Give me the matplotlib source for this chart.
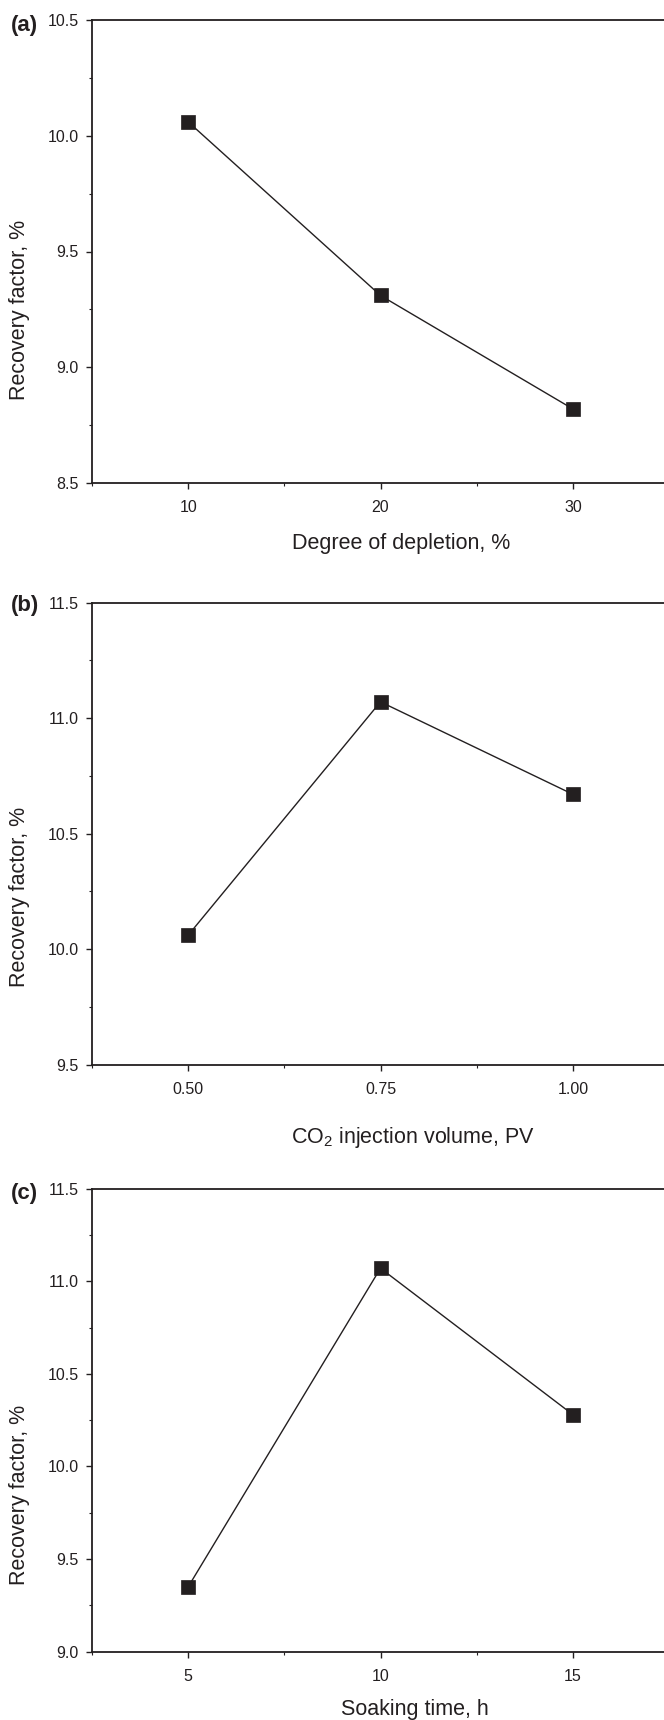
import matplotlib
matplotlib.use("Agg")
import matplotlib.pyplot as plt
from matplotlib.ticker import MultipleLocator, FormatStrFormatter

plt.rcParams['font.family'] = ['Liberation Sans', 'DejaVu Sans']
plt.rcParams['mathtext.fontset'] = 'custom'
plt.rcParams['mathtext.rm'] = 'Liberation Sans'
plt.rcParams['mathtext.it'] = 'Liberation Sans:italic'
plt.rcParams['mathtext.bf'] = 'Liberation Sans:bold'

# ---- data ----
depletion = [10, 20, 30]
rf_depletion = [10.06, 9.31, 8.82]

co2_volume = [0.50, 0.75, 1.00]
rf_co2 = [10.06, 11.07, 10.67]

soak_time = [5, 10, 15]
rf_soak = [9.35, 11.07, 10.28]

panel_labels = ["(a)", "(b)", "(c)"]
x_labels = ["Degree of depletion, %", "CO$_\\mathrm{2}$ injection volume, PV", "Soaking time, h"]
y_label = "Recovery factor, %"

W, H = 664, 1720
fig = plt.figure(figsize=(W / 100, H / 100), dpi=100)
C = '#231f20'

# axes geometry in pixels: (top, bottom)
left_px, right_px = 92, 669
panels = [
    dict(x=depletion, y=rf_depletion, top=20, bot=483, xlim=(5, 35), ylim=(8.5, 10.5),
         xmaj=10, xmin=5, xfmt='%d', lab_x=401, lab_y=543, ylab_y=310, pl_y=26),
    dict(x=co2_volume, y=rf_co2, top=602.5, bot=1064.6, xlim=(0.375, 1.125), ylim=(9.5, 11.5),
         xmaj=0.25, xmin=0.125, xfmt='%.2f', lab_x=413, lab_y=1138, ylab_y=897, pl_y=606),
    dict(x=soak_time, y=rf_soak, top=1188.6, bot=1651.7, xlim=(2.5, 17.5), ylim=(9.0, 11.5),
         xmaj=5, xmin=2.5, xfmt='%d', lab_x=415, lab_y=1710, ylab_y=1495, pl_y=1193),
]

for i, p in enumerate(panels):
    ax = fig.add_axes([left_px / W, 1 - p['bot'] / H, (right_px - left_px) / W, (p['bot'] - p['top']) / H])
    ax.plot(p['x'], p['y'], color=C, lw=1.0, marker='s', markersize=10,
            markerfacecolor=C, markeredgecolor=C, markeredgewidth=0.5, zorder=3)
    ax.set_xlim(*p['xlim'])
    ax.set_ylim(*p['ylim'])
    ax.xaxis.set_major_locator(MultipleLocator(p['xmaj']))
    ax.xaxis.set_minor_locator(MultipleLocator(p['xmin']))
    ax.xaxis.set_major_formatter(FormatStrFormatter(p['xfmt']))
    ax.yaxis.set_major_locator(MultipleLocator(0.5))
    ax.yaxis.set_minor_locator(MultipleLocator(0.25))
    ax.yaxis.set_major_formatter(FormatStrFormatter('%.1f'))
    for sp in ['left', 'bottom', 'top', 'right']:
        ax.spines[sp].set_color(C)
        ax.spines[sp].set_linewidth(1.3)
    ax.tick_params(which='major', direction='out', length=4.5, width=1.0, color=C,
                   labelsize=11.5, labelcolor=C, pad=5)
    ax.tick_params(which='minor', direction='out', length=2.5, width=0.8, color=C)
    ax.tick_params(axis='x', which='major', pad=8)
    ax.tick_params(top=False, right=False, which='both')
    fig.text(p['lab_x'] / W, 1 - p['lab_y'] / H, x_labels[i], ha='center', va='center',
             fontsize=15.5, color=C)
    fig.text(20 / W, 1 - p['ylab_y'] / H, y_label, ha='center', va='center',
             rotation=90, fontsize=15.5, color=C)
    fig.text(11 / W, 1 - p['pl_y'] / H, panel_labels[i], ha='left', va='center',
             fontsize=16, fontweight='bold', color=C)

fig.savefig("out.png", dpi=100)
